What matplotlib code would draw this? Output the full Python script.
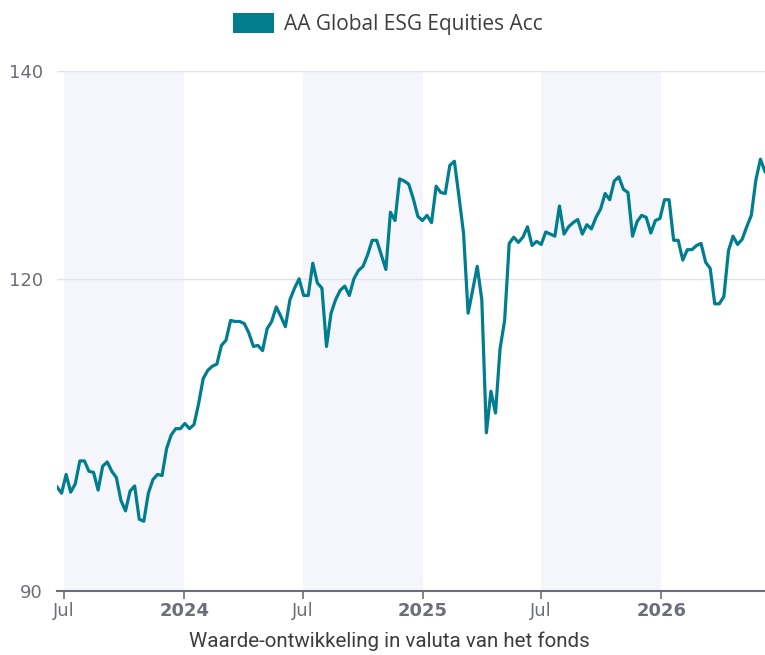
import numpy as np
import pandas as pd
import matplotlib
matplotlib.use('Agg')
import matplotlib.pyplot as plt
from matplotlib.patches import Patch

# weekly fund value (start = 100)
values = [
    100.0, 99.4, 101.2, 99.5, 100.3, 102.5, 102.5, 101.5, 101.4, 99.7,
    102.0, 102.4, 101.5, 100.9, 98.7, 97.7, 99.6, 100.1, 96.9, 96.7,
    99.4, 100.7, 101.2, 101.1, 103.7, 105.0, 105.6, 105.6, 106.1, 105.6,
    106.0, 108.0, 110.4, 111.2, 111.6, 111.8, 113.6, 114.1, 116.0, 115.9,
    115.9, 115.7, 114.8, 113.5, 113.6, 113.1, 115.2, 115.9, 117.3, 116.4,
    115.4, 118.0, 119.1, 120.0, 118.4, 118.4, 121.5, 119.6, 119.1, 113.5,
    116.7, 118.0, 118.9, 119.3, 118.4, 120.0, 120.8, 121.2, 122.3, 123.7,
    123.7, 122.3, 120.9, 126.4, 125.6, 129.6, 129.4, 129.1, 127.7, 126.0,
    125.6, 126.1, 125.4, 128.9, 128.3, 128.2, 130.9, 131.3, 127.9, 124.4,
    116.7, 118.9, 121.2, 118.0, 105.2, 109.2, 107.1, 113.3, 116.0, 123.4,
    124.0, 123.5, 124.0, 125.0, 123.2, 123.6, 123.3, 124.5, 124.3, 124.1,
    127.0, 124.3, 125.0, 125.4, 125.7, 124.3, 125.2, 124.8, 125.9, 126.7,
    128.2, 127.6, 129.4, 129.8, 128.6, 128.3, 124.1, 125.5, 126.1, 125.9,
    124.4, 125.6, 125.8, 127.6, 127.6, 123.7, 123.7, 121.8, 122.8, 122.8,
    123.2, 123.4, 121.6, 121.0, 117.6, 117.6, 118.3, 122.7, 124.1, 123.3,
    123.8, 125.0, 126.1, 129.5, 131.5, 130.3,
]
dates = pd.date_range('2023-06-20', periods=len(values), freq='7D')

tick_dates = pd.to_datetime(['2023-07-01', '2024-01-01', '2024-07-01',
                             '2025-01-01', '2025-07-01', '2026-01-01'])
tick_labels = ['Jul', '2024', 'Jul', '2025', 'Jul', '2026']
y_ticks = [90, 120, 140]

# half-year bands shaded behind the line
bands = [('2023-07-01', '2024-01-01'), ('2024-07-01', '2025-01-01'),
         ('2025-07-01', '2026-01-01')]

teal = '#007d8f'
grey = '#6c6e7a'

fig = plt.figure(figsize=(7.65, 6.55), dpi=100)
ax = fig.add_axes([57 / 765, 1 - 591 / 655, 1 - 57 / 765, (591 - 70.7) / 655])

for a, b in bands:
    ax.axvspan(pd.Timestamp(a), pd.Timestamp(b), color='#f4f6fb', lw=0, zorder=0)

for y in y_ticks[1:]:
    ax.axhline(y, color='#e1e4f0', lw=1, zorder=1)

ax.plot(dates, values, color=teal, lw=2.3, zorder=3, solid_joinstyle='round')

ax.set_xlim(dates[0], dates[-1])
ax.set_ylim(90, 140)
ax.set_yticks(y_ticks)
ax.set_xticks(tick_dates)
ax.set_xticklabels(tick_labels)

for lab in ax.get_xticklabels():
    if lab.get_text() != 'Jul':
        lab.set_fontweight('bold')

ax.tick_params(axis='y', length=0, pad=10, labelsize=13, labelcolor=grey)
ax.tick_params(axis='x', length=6, width=1.2, color=grey, pad=2,
               labelsize=13, labelcolor=grey)

for side in ['top', 'right', 'left']:
    ax.spines[side].set_visible(False)
ax.spines['bottom'].set_color(grey)
ax.spines['bottom'].set_linewidth(1.5)
ax.spines['bottom'].set_zorder(4)

fig.text(389 / 765, 1 - 641 / 655, 'Waarde-ontwikkeling in valuta van het fonds',
         ha='center', va='center', fontsize=14.8, family='Roboto', color='#3d3d3d')

fig.legend(handles=[Patch(facecolor=teal, edgecolor='none',
                          label='AA Global ESG Equities Acc')],
           loc='center', bbox_to_anchor=(387.5 / 765, 1 - 24 / 655), frameon=False,
           handlelength=2.0, handleheight=1.15, handletextpad=0.45,
           prop={'family': 'Open Sans', 'size': 15}, labelcolor='#3d3d3d')

fig.savefig('out.png', dpi=100)
